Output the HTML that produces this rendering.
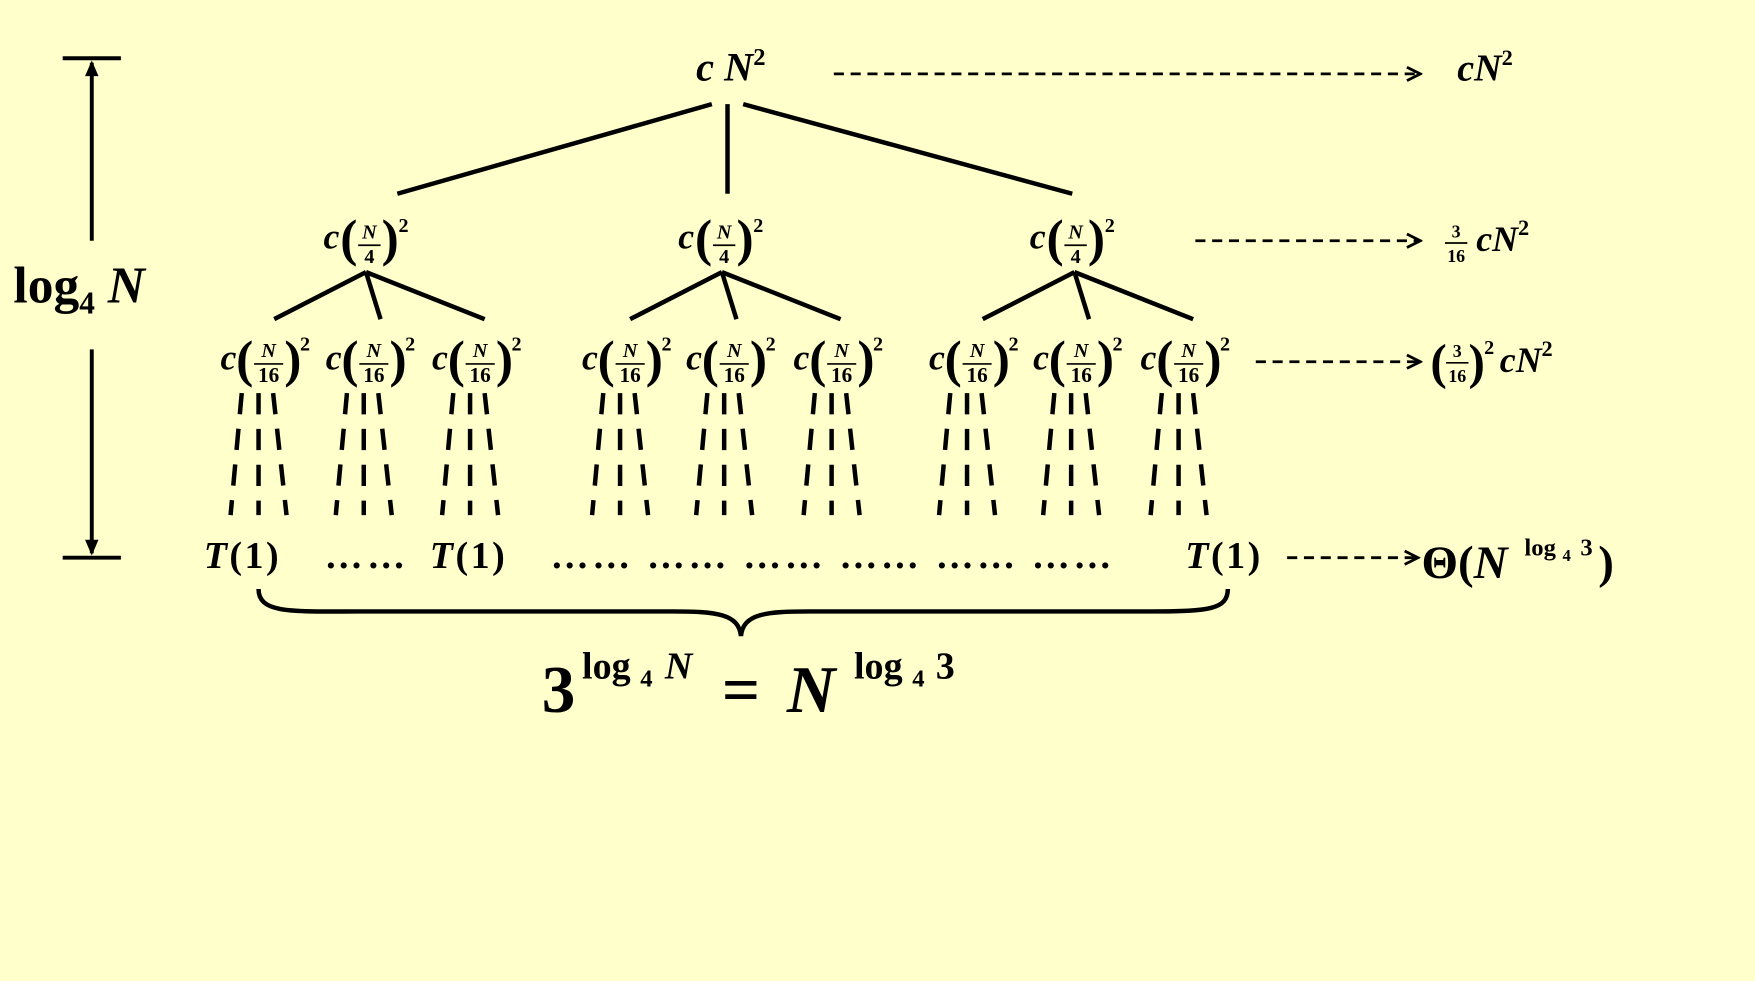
<!DOCTYPE html>
<html><head><meta charset="utf-8"><style>
html,body{margin:0;padding:0;background:#FFFFCC;}
svg{display:block;}
text{font-family:"Liberation Serif",serif;font-weight:bold;fill:#000;}
.i{font-style:italic;}
</style></head><body>
<svg width="1755" height="981" viewBox="0 0 1568 876" preserveAspectRatio="none" xmlns="http://www.w3.org/2000/svg">
<rect width="1568" height="876" fill="#FFFFCC"/>
<defs>
<marker id="ah" markerWidth="16" markerHeight="16" refX="13" refY="8" orient="auto" markerUnits="userSpaceOnUse"><path d="M2,2 L14,8 L2,14" fill="none" stroke="#000" stroke-width="2.5"/></marker>
</defs>
<!-- left height arrow -->
<g stroke="#000" stroke-width="3.5">
<line x1="56" y1="52" x2="108" y2="52"/><line x1="56" y1="498" x2="108" y2="498"/>
<line x1="82" y1="56" x2="82" y2="215"/><line x1="82" y1="312" x2="82" y2="494"/>
</g>
<path d="M76,68 L82,54 L88,68 Z M76,482 L82,496 L88,482 Z" fill="#000"/>
<text x="12" y="270" font-size="46">log<tspan font-size="28" dy="10">4</tspan><tspan class="i" dy="-10"> N</tspan></text>

<!-- root -->
<text x="622" y="72" font-size="36" class="i">c N<tspan font-size="22" dy="-14" font-style="normal">2</tspan></text>
<g stroke="#000" stroke-width="4">
<line x1="636" y1="93" x2="355" y2="173"/><line x1="650" y1="93" x2="650" y2="173"/><line x1="664" y1="93" x2="958" y2="173"/>
<line x1="327" y1="243" x2="245" y2="285"/><line x1="327" y1="243" x2="340" y2="285"/><line x1="327" y1="243" x2="433" y2="285"/>
<line x1="645" y1="243" x2="563" y2="285"/><line x1="645" y1="243" x2="658" y2="285"/><line x1="645" y1="243" x2="751" y2="285"/>
<line x1="960" y1="243" x2="878" y2="285"/><line x1="960" y1="243" x2="973" y2="285"/><line x1="960" y1="243" x2="1066" y2="285"/>
</g>

<!-- level 1 nodes -->
<g transform="translate(289,222)"><text x="0" y="0" font-size="32" class="i">c</text><text x="15" y="6" font-size="46" font-weight="normal">(</text><text x="41" y="-9" font-size="18" class="i" text-anchor="middle">N</text><line x1="31" y1="-3" x2="51" y2="-3" stroke="#000" stroke-width="1.5"/><text x="41" y="13" font-size="18" text-anchor="middle">4</text><text x="52" y="6" font-size="46" font-weight="normal">)</text><text x="67" y="-15" font-size="18">2</text></g>
<g transform="translate(606,222)"><text x="0" y="0" font-size="32" class="i">c</text><text x="15" y="6" font-size="46" font-weight="normal">(</text><text x="41" y="-9" font-size="18" class="i" text-anchor="middle">N</text><line x1="31" y1="-3" x2="51" y2="-3" stroke="#000" stroke-width="1.5"/><text x="41" y="13" font-size="18" text-anchor="middle">4</text><text x="52" y="6" font-size="46" font-weight="normal">)</text><text x="67" y="-15" font-size="18">2</text></g>
<g transform="translate(920,222)"><text x="0" y="0" font-size="32" class="i">c</text><text x="15" y="6" font-size="46" font-weight="normal">(</text><text x="41" y="-9" font-size="18" class="i" text-anchor="middle">N</text><line x1="31" y1="-3" x2="51" y2="-3" stroke="#000" stroke-width="1.5"/><text x="41" y="13" font-size="18" text-anchor="middle">4</text><text x="52" y="6" font-size="46" font-weight="normal">)</text><text x="67" y="-15" font-size="18">2</text></g>

<!-- level 2 nodes -->
<g transform="translate(197,330)"><text x="0" y="0" font-size="32" class="i">c</text><text x="14" y="6" font-size="46" font-weight="normal">(</text><text x="43" y="-11" font-size="18" class="i" text-anchor="middle">N</text><line x1="30" y1="-5" x2="56" y2="-5" stroke="#000" stroke-width="1.5"/><text x="43" y="11" font-size="19" text-anchor="middle">16</text><text x="57" y="6" font-size="46" font-weight="normal">)</text><text x="71" y="-17" font-size="18">2</text></g>
<g transform="translate(291,330)"><text x="0" y="0" font-size="32" class="i">c</text><text x="14" y="6" font-size="46" font-weight="normal">(</text><text x="43" y="-11" font-size="18" class="i" text-anchor="middle">N</text><line x1="30" y1="-5" x2="56" y2="-5" stroke="#000" stroke-width="1.5"/><text x="43" y="11" font-size="19" text-anchor="middle">16</text><text x="57" y="6" font-size="46" font-weight="normal">)</text><text x="71" y="-17" font-size="18">2</text></g>
<g transform="translate(386,330)"><text x="0" y="0" font-size="32" class="i">c</text><text x="14" y="6" font-size="46" font-weight="normal">(</text><text x="43" y="-11" font-size="18" class="i" text-anchor="middle">N</text><line x1="30" y1="-5" x2="56" y2="-5" stroke="#000" stroke-width="1.5"/><text x="43" y="11" font-size="19" text-anchor="middle">16</text><text x="57" y="6" font-size="46" font-weight="normal">)</text><text x="71" y="-17" font-size="18">2</text></g>
<g transform="translate(520,330)"><text x="0" y="0" font-size="32" class="i">c</text><text x="14" y="6" font-size="46" font-weight="normal">(</text><text x="43" y="-11" font-size="18" class="i" text-anchor="middle">N</text><line x1="30" y1="-5" x2="56" y2="-5" stroke="#000" stroke-width="1.5"/><text x="43" y="11" font-size="19" text-anchor="middle">16</text><text x="57" y="6" font-size="46" font-weight="normal">)</text><text x="71" y="-17" font-size="18">2</text></g>
<g transform="translate(613,330)"><text x="0" y="0" font-size="32" class="i">c</text><text x="14" y="6" font-size="46" font-weight="normal">(</text><text x="43" y="-11" font-size="18" class="i" text-anchor="middle">N</text><line x1="30" y1="-5" x2="56" y2="-5" stroke="#000" stroke-width="1.5"/><text x="43" y="11" font-size="19" text-anchor="middle">16</text><text x="57" y="6" font-size="46" font-weight="normal">)</text><text x="71" y="-17" font-size="18">2</text></g>
<g transform="translate(709,330)"><text x="0" y="0" font-size="32" class="i">c</text><text x="14" y="6" font-size="46" font-weight="normal">(</text><text x="43" y="-11" font-size="18" class="i" text-anchor="middle">N</text><line x1="30" y1="-5" x2="56" y2="-5" stroke="#000" stroke-width="1.5"/><text x="43" y="11" font-size="19" text-anchor="middle">16</text><text x="57" y="6" font-size="46" font-weight="normal">)</text><text x="71" y="-17" font-size="18">2</text></g>
<g transform="translate(830,330)"><text x="0" y="0" font-size="32" class="i">c</text><text x="14" y="6" font-size="46" font-weight="normal">(</text><text x="43" y="-11" font-size="18" class="i" text-anchor="middle">N</text><line x1="30" y1="-5" x2="56" y2="-5" stroke="#000" stroke-width="1.5"/><text x="43" y="11" font-size="19" text-anchor="middle">16</text><text x="57" y="6" font-size="46" font-weight="normal">)</text><text x="71" y="-17" font-size="18">2</text></g>
<g transform="translate(923,330)"><text x="0" y="0" font-size="32" class="i">c</text><text x="14" y="6" font-size="46" font-weight="normal">(</text><text x="43" y="-11" font-size="18" class="i" text-anchor="middle">N</text><line x1="30" y1="-5" x2="56" y2="-5" stroke="#000" stroke-width="1.5"/><text x="43" y="11" font-size="19" text-anchor="middle">16</text><text x="57" y="6" font-size="46" font-weight="normal">)</text><text x="71" y="-17" font-size="18">2</text></g>
<g transform="translate(1019,330)"><text x="0" y="0" font-size="32" class="i">c</text><text x="14" y="6" font-size="46" font-weight="normal">(</text><text x="43" y="-11" font-size="18" class="i" text-anchor="middle">N</text><line x1="30" y1="-5" x2="56" y2="-5" stroke="#000" stroke-width="1.5"/><text x="43" y="11" font-size="19" text-anchor="middle">16</text><text x="57" y="6" font-size="46" font-weight="normal">)</text><text x="71" y="-17" font-size="18">2</text></g>

<!-- dashed fans -->
<g stroke="#000" stroke-width="4" stroke-dasharray="19,13" fill="none">
<path d="M216,351 L206,460 M231,351 L231,460 M244,351 L256,460"/>
<path d="M310,351 L300,460 M325,351 L325,460 M338,351 L350,460"/>
<path d="M405,351 L395,460 M420,351 L420,460 M433,351 L445,460"/>
<path d="M539,351 L529,460 M554,351 L554,460 M567,351 L579,460"/>
<path d="M632,351 L622,460 M647,351 L647,460 M660,351 L672,460"/>
<path d="M728,351 L718,460 M743,351 L743,460 M756,351 L768,460"/>
<path d="M849,351 L839,460 M864,351 L864,460 M877,351 L889,460"/>
<path d="M942,351 L932,460 M957,351 L957,460 M970,351 L982,460"/>
<path d="M1038,351 L1028,460 M1053,351 L1053,460 M1066,351 L1078,460"/>
</g>

<!-- leaves -->
<text x="182" y="507" font-size="34" textLength="67"><tspan class="i">T</tspan>(1)</text>
<text x="290" y="507" font-size="34" textLength="72">……</text>
<text x="384" y="507" font-size="34" textLength="67"><tspan class="i">T</tspan>(1)</text>
<text x="492" y="507" font-size="34" textLength="501">…… …… …… …… …… ……</text>
<text x="1059" y="507" font-size="34" textLength="67"><tspan class="i">T</tspan>(1)</text>

<!-- brace -->
<path d="M231,526 C231,548 260,546 320,546 L600,546 C640,546 660,548 662,568 C664,548 684,546 724,546 L1030,546 C1080,546 1097,544 1097,526" fill="none" stroke="#000" stroke-width="4"/>
<text x="484" y="636" font-size="60">3</text>
<text x="520" y="606" font-size="34">log</text>
<text x="572" y="613" font-size="22">4</text>
<text x="594" y="606" font-size="34" class="i">N</text>
<text x="645" y="636" font-size="60">=</text>
<text x="703" y="636" font-size="60" class="i">N</text>
<text x="763" y="606" font-size="34">log</text>
<text x="815" y="613" font-size="22">4</text>
<text x="836" y="606" font-size="34">3</text>

<!-- right side -->
<g stroke="#000" stroke-width="2.5" stroke-dasharray="9,6" fill="none" marker-end="url(#ah)">
<line x1="745" y1="66" x2="1268" y2="66"/>
<line x1="1068" y1="215" x2="1268" y2="215"/>
<line x1="1122" y1="323" x2="1268" y2="323"/>
<line x1="1150" y1="498" x2="1266" y2="498"/>
</g>
<text x="1302" y="72" font-size="34" class="i">cN<tspan font-size="20" dy="-14" font-style="normal">2</tspan></text>
<g transform="translate(1290,224)"><text x="11" y="-12" font-size="16" text-anchor="middle">3</text><line x1="1" y1="-7" x2="21" y2="-7" stroke="#000" stroke-width="1.5"/><text x="11" y="10" font-size="16" text-anchor="middle">16</text><text x="29" y="0" font-size="32" class="i">cN<tspan font-size="20" dy="-14" font-style="normal">2</tspan></text></g>
<g transform="translate(1278,332)"><text x="0" y="6" font-size="44" font-weight="normal">(</text><text x="24" y="-13" font-size="16" text-anchor="middle">3</text><line x1="14" y1="-8" x2="34" y2="-8" stroke="#000" stroke-width="1.5"/><text x="24" y="9" font-size="16" text-anchor="middle">16</text><text x="34" y="6" font-size="44" font-weight="normal">)</text><text x="48" y="-16" font-size="18">2</text><text x="62" y="0" font-size="32" class="i">cN<tspan font-size="20" dy="-14" font-style="normal">2</tspan></text></g>
<text x="1270" y="516" font-size="42">Θ(<tspan class="i">N</tspan></text>
<text x="1362" y="496" font-size="22">log</text>
<text x="1396" y="501" font-size="15">4</text>
<text x="1412" y="496" font-size="22">3</text>
<text x="1428" y="516" font-size="42">)</text>
</svg>
</body></html>
